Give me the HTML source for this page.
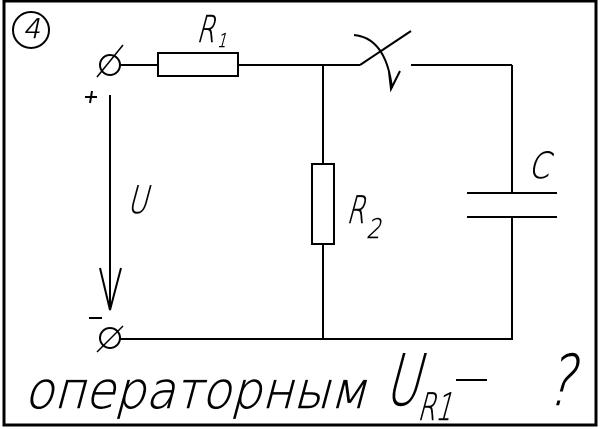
<!DOCTYPE html>
<html><head><meta charset="utf-8"><style>
html,body{margin:0;padding:0;background:#fff;}
svg{display:block;}
text{font-family:"DejaVu Sans","Liberation Sans",sans-serif;font-weight:200;fill:#000;stroke:#000;stroke-width:0.5;}
</style></head><body>
<svg width="600" height="429" viewBox="0 0 600 429" xmlns="http://www.w3.org/2000/svg">
<rect x="0" y="0" width="600" height="429" fill="#fff"/>
<!-- border -->
<rect x="4" y="1" width="592" height="424" fill="none" stroke="#000" stroke-width="3"/>
<!-- number circle -->
<circle cx="31" cy="30" r="18" fill="none" stroke="#000" stroke-width="2"/>
<g transform="translate(23,38) skewX(-12)"><text x="0" y="0" font-size="27">4</text></g>

<g stroke="#000" stroke-width="2" fill="none">
<!-- top terminal -->
<circle cx="110" cy="65" r="10"/>
<line x1="97" y1="77" x2="123" y2="45" stroke-width="1.5"/>
<line x1="120" y1="65" x2="158" y2="65"/>
<rect x="158" y="53" width="80" height="23"/>
<line x1="238" y1="65" x2="360" y2="65"/>
<!-- switch -->
<line x1="360" y1="65" x2="411" y2="31"/>
<line x1="411" y1="65" x2="512" y2="65"/>
<path d="M354,35 Q386,38 392,88"/>
<polyline points="389,72 391,89 400,71"/>
<!-- R2 branch -->
<line x1="323" y1="65" x2="323" y2="164"/>
<rect x="312" y="164" width="22" height="80"/>
<line x1="323" y1="244" x2="323" y2="339"/>
<!-- capacitor branch -->
<line x1="512" y1="65" x2="512" y2="193"/>
<line x1="467" y1="193" x2="557" y2="193"/>
<line x1="467" y1="217" x2="557" y2="217"/>
<line x1="512" y1="217" x2="512" y2="339"/>
<!-- bottom wire -->
<line x1="120" y1="339" x2="513" y2="339"/>
<circle cx="110" cy="338" r="10"/>
<line x1="97" y1="352" x2="123" y2="326" stroke-width="1.5"/>
<!-- voltage arrow -->
<line x1="110" y1="95" x2="110" y2="310"/>
<polyline points="100,268 110,310 121,268"/>
<!-- plus / minus -->
<line x1="85" y1="97" x2="97" y2="97"/>
<line x1="92" y1="91" x2="90" y2="103"/>
<line x1="89" y1="318" x2="102" y2="318"/>
<!-- dash in bottom text -->
<line x1="456" y1="380" x2="487" y2="380"/>
</g>

<!-- labels -->
<g transform="translate(127,213) skewX(-15)"><text x="0" y="0" font-size="38" textLength="20" lengthAdjust="spacingAndGlyphs">U</text></g>
<g transform="translate(196,42) skewX(-15)"><text x="0" y="0" font-size="37" textLength="18" lengthAdjust="spacingAndGlyphs">R</text></g>
<g transform="translate(217,47) skewX(-15)"><text x="0" y="0" font-size="19" textLength="9" lengthAdjust="spacingAndGlyphs">1</text></g>
<g transform="translate(346,223) skewX(-15)"><text x="0" y="0" font-size="38" textLength="18" lengthAdjust="spacingAndGlyphs">R</text></g>
<g transform="translate(366,238) skewX(-15)"><text x="0" y="0" font-size="27" textLength="14" lengthAdjust="spacingAndGlyphs">2</text></g>
<g transform="translate(528,178) skewX(-15)"><text x="0" y="0" font-size="36" textLength="21" lengthAdjust="spacingAndGlyphs">C</text></g>

<!-- bottom text -->
<g transform="translate(24,408) skewX(-15)"><text x="0" y="0" font-size="51" textLength="342" lengthAdjust="spacingAndGlyphs">операторным</text></g>
<g transform="translate(384,405) skewX(-15)"><text x="0" y="0" font-size="71" textLength="34" lengthAdjust="spacingAndGlyphs">U</text></g>
<g transform="translate(417,420) skewX(-15)"><text x="0" y="0" font-size="38" textLength="34" lengthAdjust="spacingAndGlyphs">R1</text></g>
<g transform="translate(545,405) skewX(-15)"><text x="0" y="0" font-size="70" textLength="28" lengthAdjust="spacingAndGlyphs">?</text></g>
</svg>
</body></html>
